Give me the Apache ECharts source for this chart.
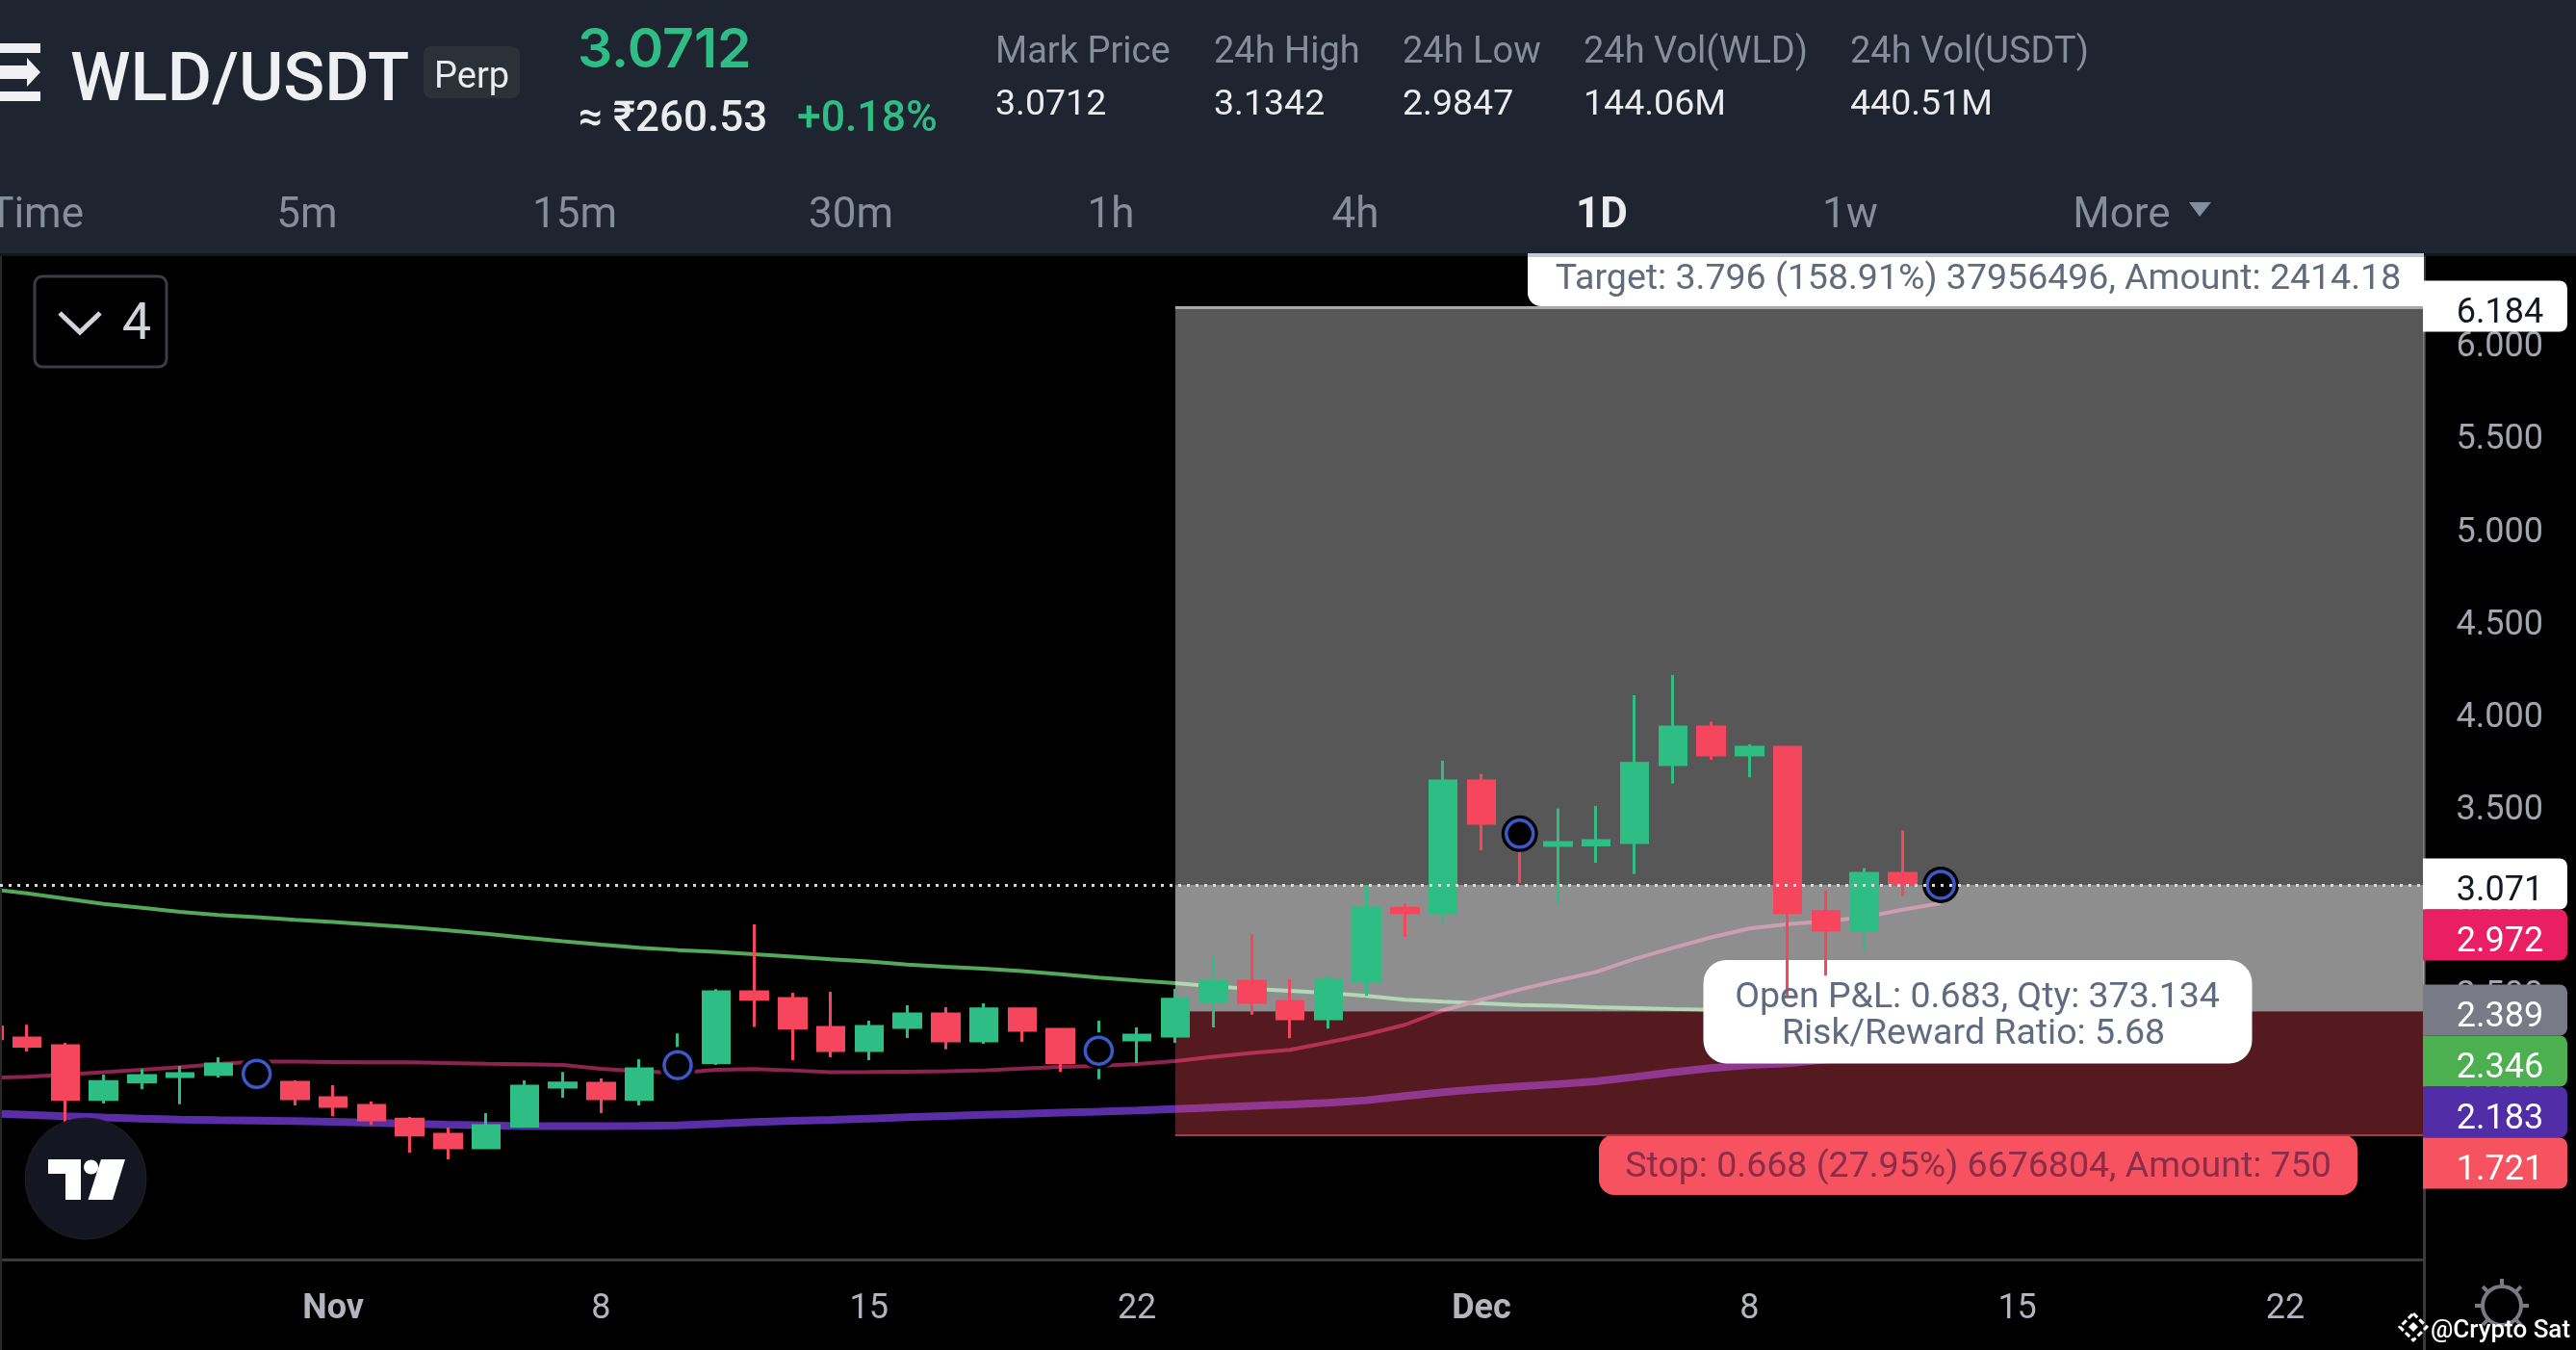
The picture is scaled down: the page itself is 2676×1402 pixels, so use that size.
<!DOCTYPE html>
<html><head><meta charset="utf-8">
<style>html,body{margin:0;padding:0;background:#000}#c{width:2676px;height:1402px}</style>
<script src="https://cdn.jsdelivr.net/npm/echarts@6/dist/echarts.min.js"></script>
</head><body><div id="c"></div>
<script>
// Day index 0 = 23 Oct, 9 = 1 Nov, 39 = 1 Dec
const tickDays   = [9, 16, 23, 30, 39, 46, 53, 60];
const tickLabels = ['Nov', '8', '15', '22', 'Dec', '8', '15', '22'];
const opens  = [2.305,2.246,2.204,1.915,2.009,2.038,2.050,2.057,2.007,1.924,1.882,1.808,1.727,1.654,1.770,1.981,2.002,1.915,2.083,2.113,2.495,2.459,2.303,2.178,2.303,2.376,2.230,2.402,2.292,2.161,2.235,2.256,2.445,2.552,2.443,2.350,2.552,2.945,2.921,3.632,3.364,3.284,3.286,3.300,3.720,3.923,3.772,3.814,2.927,2.827,3.134,3.066];
const closes = [2.242,2.201,1.915,2.010,2.043,2.054,2.106,2.047,1.919,1.877,1.804,1.722,1.654,1.773,1.986,2.003,1.919,2.080,2.118,2.495,2.455,2.299,2.178,2.308,2.376,2.230,2.402,2.287,2.113,2.196,2.261,2.454,2.552,2.438,2.350,2.557,2.947,2.921,3.632,3.404,3.329,3.300,3.310,3.726,3.923,3.772,3.814,2.921,2.827,3.134,3.074,3.0712];
const lows   = [2.230,2.173,1.775,1.893,1.971,1.888,2.033,2.031,1.882,1.824,1.777,1.628,1.592,1.654,1.770,1.924,1.841,1.882,2.057,2.100,2.305,2.126,2.142,2.126,2.246,2.184,2.215,2.225,2.064,2.023,2.111,2.220,2.303,2.372,2.244,2.296,2.473,2.791,2.864,3.258,3.082,2.968,3.191,3.129,3.617,3.746,3.651,2.470,2.582,2.713,3.012,2.9847];
const highs  = [2.317,2.317,2.220,2.048,2.078,2.095,2.142,2.071,2.017,1.991,1.903,1.820,1.763,1.841,2.017,2.062,2.028,2.132,2.270,2.509,2.858,2.490,2.495,2.339,2.422,2.412,2.433,2.407,2.292,2.339,2.303,2.511,2.689,2.805,2.563,2.582,3.068,2.968,3.741,3.670,3.407,3.482,3.497,4.094,4.203,3.951,3.829,3.817,3.042,3.162,3.365,3.1342];
const maGreen   = [3.050,3.026,2.997,2.969,2.948,2.926,2.909,2.897,2.883,2.871,2.857,2.843,2.826,2.808,2.787,2.767,2.749,2.732,2.720,2.710,2.697,2.684,2.670,2.658,2.642,2.630,2.620,2.606,2.589,2.571,2.556,2.542,2.524,2.511,2.500,2.488,2.473,2.452,2.441,2.433,2.424,2.419,2.412,2.407,2.402,2.398,2.393,2.383,2.372,2.362,2.354,2.346];
const maCrimson = [2.031,2.036,2.048,2.061,2.074,2.088,2.106,2.118,2.118,2.116,2.114,2.114,2.111,2.107,2.104,2.100,2.080,2.066,2.057,2.074,2.078,2.071,2.061,2.062,2.064,2.066,2.071,2.081,2.090,2.095,2.106,2.121,2.144,2.165,2.182,2.222,2.265,2.317,2.395,2.452,2.507,2.556,2.602,2.672,2.732,2.788,2.836,2.859,2.875,2.897,2.937,2.972];
const maPurple  = [1.838,1.832,1.824,1.817,1.811,1.806,1.803,1.801,1.798,1.794,1.789,1.784,1.778,1.775,1.770,1.770,1.770,1.772,1.775,1.784,1.792,1.799,1.804,1.811,1.818,1.825,1.831,1.837,1.843,1.848,1.855,1.863,1.870,1.879,1.887,1.896,1.910,1.933,1.953,1.971,1.985,1.997,2.012,2.036,2.061,2.083,2.100,2.109,2.130,2.150,2.165,2.183];
const signalDays   = [7, 18, 29, 40, 51];
const signalValues = [2.052, 2.099, 2.177, 3.347, 3.0712];
const lastPrice = 3.0712, targetPrice = 6.184, entryPrice = 2.389, stopPrice = 1.721;
const zoneStartDay = 31;
const priceTags = [['6.184',318],['3.071',918],['2.972',971],['2.389',1049],['2.346',1102],['2.183',1155],['1.721',1208]];
const tagFills  = ['#ffffff','#ffffff','#e91e63','#787b86','#4caf50','#512da8','#f7525f'];
const tagInk    = ['#131722','#131722','#ffffff','#ffffff','#ffffff','#ffffff','#ffffff'];
const statLabels = ['Mark Price','24h High','24h Low','24h Vol(WLD)','24h Vol(USDT)'];
const statValues = ['3.0712','3.1342','2.9847','144.06M','440.51M'];
const tabs = ['5m','15m','30m','1h','4h','1D','1w','More'];

const xMin = 0.294, xMax = 63.636;
const FONT = 'Roboto', HEAD = 'Inter';
const candleData = opens.map((o,i)=>[i,o,closes[i],lows[i],highs[i]]);
const lineData = a => a.map((v,i)=>[i,v]);

function txt(text,x,y,size,fill,o){o=o||{};return {type:'text',x,y:y+5,z:o.z||20,silent:true,style:{text,fill,fontSize:size,fontFamily:o.font||FONT,fontWeight:o.weight||400,align:o.align||'left',verticalAlign:'middle'}};}
function box(x,y,w,h,fill,r,z,extra){return {type:'rect',z:z||20,silent:true,shape:{x,y,width:w,height:h,r:r||0},style:Object.assign({fill},extra||{})};}
function poly(points,fill,z){return {type:'polygon',z:z||20,silent:true,shape:{points},style:{fill}};}
function seg(x1,y1,x2,y2,stroke,w,z){return {type:'line',z:z||20,silent:true,shape:{x1,y1,x2,y2},style:{stroke,lineWidth:w}};}

const gfx = [];
// header
gfx.push(box(0,0,2676,263,'#1e2430',0,15), box(0,263,2676,3,'#14171c',0,15));
gfx.push(box(0,45,42,10,'#eef0f4',0,20), box(0,68,30,14,'#eef0f4',0,20), poly([[28,60],[42,75],[28,90]],'#eef0f4'), box(0,95,42,10,'#eef0f4',0,20));
gfx.push(txt('WLD/USDT',73,81,71,'#eef0f4',{weight:500,font:FONT}));
gfx.push(box(440,48,100,54,'#2b3139',8,20), txt('Perp',451,76,38,'#eaecef',{font:FONT}));
gfx.push(txt('3.0712',600,48,57,'#2ebd85',{weight:600,font:HEAD}));
gfx.push(txt('≈ ₹260.53',601,120,44,'#eaecef',{weight:500,font:FONT}), txt('+0.18%',828,120,44.5,'#2ebd85',{weight:500,font:FONT}));
[1034,1261,1457,1645,1922].forEach((x,i)=>{gfx.push(txt(statLabels[i],x,50,38,'#848e9c'),txt(statValues[i],x,105,37.5,'#eaecef'));});
gfx.push(txt('Time',87,220,44,'#848e9c',{align:'right'}));
[319,597,884,1154,1408,1664,1922,2204].forEach((x,i)=>{gfx.push(txt(tabs[i],x,220,44,i===5?'#eaecef':'#848e9c',{align:'center',weight:i===5?700:400}));});
gfx.push(poly([[2274,210],[2297,210],[2285,225]],'#848e9c'));
// collapse control
gfx.push({type:'rect',z:20,silent:true,shape:{x:36,y:287,width:137,height:94,r:8},style:{fill:'#000',stroke:'#3a3d45',lineWidth:3}});
gfx.push({type:'polyline',z:20,silent:true,shape:{points:[[62,325],[83,345],[104,325]]},style:{stroke:'#d1d4dc',lineWidth:5,fill:null}});
gfx.push(txt('4',142,333,54,'#d1d4dc',{align:'center'}));
// TradingView badge
gfx.push({type:'circle',z:20,silent:true,shape:{cx:89,cy:1224,r:63},style:{fill:'#141722',stroke:'#201f22',lineWidth:1}});
gfx.push(poly([[50,1204],[84,1204],[84,1246],[68,1246],[68,1219],[50,1219]],'#ffffff'), {type:'circle',z:20,silent:true,shape:{cx:94.6,cy:1212,r:7.6},style:{fill:'#ffffff'}}, poly([[105,1204],[130,1204],[117,1246],[91.5,1246]],'#ffffff'));
// target label
gfx.push(box(1587,263,931,55,'#ffffff',[0,0,0,14],21), box(1587,263,931,4,'#c8c9cf',0,21));
gfx.push(txt('Target: 3.796 (158.91%) 37956496, Amount: 2414.18',2055,286,37.5,'#616b7b',{align:'center',z:22}));
// P&L label (candles sit above its fill, text above the candles)
gfx.push(box(1769.5,997,570,107.5,'#ffffff',24,3.5));
gfx.push(txt('Open P&L: 0.683, Qty: 373.134',2054,1032,37.5,'#5f6b80',{align:'center',z:7}), txt('Risk/Reward Ratio: 5.68',2050,1070,37.5,'#5f6b80',{align:'center',z:7}));
// stop label
gfx.push(box(1661,1178,788,63,'#f7525f',16,6), txt('Stop: 0.668 (27.95%) 6676804, Amount: 750',2055,1208,37.5,'#8a2d49',{align:'center',z:7}));
// right column
gfx.push(seg(2518.5,1317,2518.5,1402,'#3a3a3a',3,5), seg(1,266,1,1402,'#2a2a2a',2,5));
priceTags.forEach((t,i)=>{gfx.push(box(2517,t[1]-26.5,150,53,tagFills[i],[0,8,8,0],12), txt(t[0],2597,t[1]+2.5,36,tagInk[i],{align:'center',z:13}));});
// settings icon
gfx.push({type:'circle',z:8,silent:true,shape:{cx:2599,cy:1356,r:20},style:{fill:'none',stroke:'#787b86',lineWidth:4}});
[[0,-1],[.71,-.71],[1,0],[-1,0],[-.71,-.71],[.71,.71],[-.71,.71]].forEach(d=>gfx.push(seg(2599+d[0]*21,1356+d[1]*21,2599+d[0]*28,1356+d[1]*28,'#787b86',4,8)));
// watermark
gfx.push({type:'polygon',z:14,silent:true,shape:{points:[[2507,1364],[2521,1378],[2507,1392],[2493,1378]]},style:{fill:'none',stroke:'#ffffff',lineWidth:3,lineDash:[6,3]}});
gfx.push(poly([[2507,1373],[2512,1378],[2507,1383],[2502,1378]],'#ffffff',14));
gfx.push(txt('@Crypto Sat',2525,1377,26,'#ffffff',{z:14,weight:500}));

const chart = echarts.init(document.getElementById('c'),null,{width:2676,height:1402});
const quiet = {show:false};
chart.setOption({
  backgroundColor:'#000000', animation:false,
  grid:{left:0,right:157.5,top:258.6,bottom:84.1,containLabel:false},
  xAxis:{type:'value',min:xMin,max:xMax,offset:-9.9,
    axisLine:{show:true,onZero:false,lineStyle:{color:'#3a3a3a',width:3}},axisTick:quiet,splitLine:quiet,
    axisLabel:{customValues:tickDays,margin:34,hideOverlap:false,showMinLabel:true,showMaxLabel:true,
      formatter:v=>{const s=tickLabels[tickDays.indexOf(v)];return (s==='Nov'||s==='Dec')?'{b|'+s+'}':'{r|'+s+'}';},
      rich:{b:{fontFamily:FONT,fontSize:36,fontWeight:700,color:'#b2b5be'},r:{fontFamily:FONT,fontSize:36,color:'#b2b5be'}}}},
  yAxis:{type:'value',position:'right',min:1,max:6.5,interval:0.5,
    axisLine:{show:true,onZero:false,lineStyle:{color:'#3a3a3a',width:3}},axisTick:quiet,splitLine:quiet,
    axisLabel:{margin:33,verticalAlign:'top',lineHeight:12,fontFamily:FONT,fontSize:36,color:'#a3a6af',showMinLabel:false,showMaxLabel:false,formatter:v=>v<2?'':v.toFixed(3)}},
  series:[
    {name:'MA long',type:'line',z:2,silent:true,showSymbol:false,data:lineData(maGreen),lineStyle:{color:'#55a85a',width:4},
      markArea:{silent:true,z:3,data:[
        [{xAxis:zoneStartDay,yAxis:targetPrice,itemStyle:{color:'rgba(255,255,255,0.34)'}},{xAxis:xMax,yAxis:lastPrice}],
        [{xAxis:zoneStartDay,yAxis:lastPrice,itemStyle:{color:'rgba(255,255,255,0.556)'}},{xAxis:xMax,yAxis:entryPrice}],
        [{xAxis:zoneStartDay,yAxis:entryPrice,itemStyle:{color:'rgba(255,80,98,0.33)'}},{xAxis:xMax,yAxis:stopPrice}]]},
      markLine:{silent:true,z:6,symbol:'none',label:quiet,data:[
        [{coord:[xMin,lastPrice],lineStyle:{color:'#d8d8d8',width:3,type:[3,6]}},{coord:[xMax,lastPrice]}],
        [{coord:[zoneStartDay,targetPrice],lineStyle:{color:'#a8a8a8',width:3,type:'solid'}},{coord:[xMax,targetPrice]}],
        [{coord:[zoneStartDay,stopPrice],lineStyle:{color:'#a83a44',width:2,type:'solid'}},{coord:[xMax,stopPrice]}]]}},
    {name:'MA mid',type:'line',z:2,silent:true,showSymbol:false,data:lineData(maCrimson),lineStyle:{color:'#8f2350',width:4}},
    {name:'MA short',type:'line',z:2,silent:true,showSymbol:false,data:lineData(maPurple),lineStyle:{color:'#5a2ea6',width:8}},
    {name:'WLD/USDT',type:'candlestick',z:4,silent:true,barWidth:28,encode:{x:0,y:[1,2,3,4]},data:candleData,
      itemStyle:{color:'#2ebd85',color0:'#f6465d',borderColor:'#2ebd85',borderColor0:'#f6465d',borderWidth:3}},
    {name:'halo',type:'scatter',z:5,silent:true,symbolSize:38,data:signalDays.map((d,i)=>[d,signalValues[i]]),itemStyle:{color:'#000000',opacity:1}},
    {name:'signal',type:'scatter',z:5,silent:true,symbolSize:28,data:signalDays.map((d,i)=>[d,signalValues[i]]),itemStyle:{color:'#000000',opacity:1,borderColor:'#3a5bc7',borderWidth:3.5}}
  ],
  graphic:{elements:gfx}
});
</script></body></html>
